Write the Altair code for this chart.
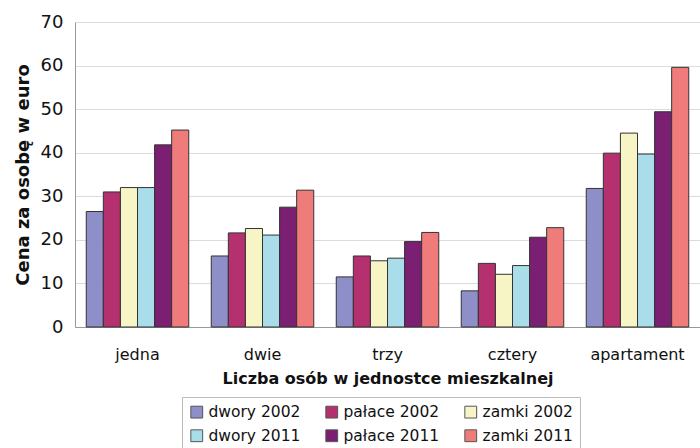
import altair as alt
import pandas as pd

categories = ["jedna", "dwie", "trzy", "cztery", "apartament"]
series = ["dwory 2002", "pałace 2002", "zamki 2002", "dwory 2011", "pałace 2011", "zamki 2011"]
legend_order = ["dwory 2002", "dwory 2011", "pałace 2002", "pałace 2011", "zamki 2002", "zamki 2011"]
colors = ["#8e8fc8", "#b5306e", "#f7f5c5", "#a8dde9", "#7a1f72", "#f07b7b"]

dwory_2002 = [26.5, 16.3, 11.5, 8.3, 31.8]
palace_2002 = [31.0, 21.6, 16.3, 14.6, 39.9]
zamki_2002 = [32.0, 22.6, 15.2, 12.1, 44.5]
dwory_2011 = [32.0, 21.1, 15.8, 14.1, 39.7]
palace_2011 = [41.8, 27.5, 19.6, 20.6, 49.4]
zamki_2011 = [45.2, 31.4, 21.7, 22.8, 59.6]

values = [dwory_2002, palace_2002, zamki_2002, dwory_2011, palace_2011, zamki_2011]
rows = []
for s, vals in zip(series, values):
    for c, v in zip(categories, vals):
        rows.append({"kat": c, "seria": s, "cena": v})
df = pd.DataFrame(rows)

FONT = "DejaVu Sans"

chart = alt.Chart(df).mark_bar(stroke="#333333", strokeWidth=1).encode(
    x=alt.X("kat:N", sort=categories,
            scale=alt.Scale(paddingInner=0.18, paddingOuter=0.09),
            axis=alt.Axis(title="Liczba osób w jednostce mieszkalnej", labelAngle=0,
                          labelFontSize=16, labelColor="#111", labelFont=FONT,
                          ticks=False, labelPadding=19, titleFontSize=16,
                          titleFont=FONT, titleFontWeight="bold", titleColor="#111",
                          titlePadding=8, domainColor="#999", grid=False)),
    xOffset=alt.XOffset("seria:N", sort=series),
    y=alt.Y("cena:Q", scale=alt.Scale(domain=[0, 70]),
            axis=alt.Axis(title="Cena za osobę w euro", values=list(range(0, 71, 10)),
                          labelFontSize=18, labelColor="#111", labelFont=FONT,
                          ticks=False, labelPadding=12, titleFontSize=18,
                          titleFont=FONT, titleFontWeight="bold", titleColor="#111",
                          titlePadding=8, domainColor="#999", gridColor="#dcdcdc")),
    color=alt.Color("seria:N", sort=series,
                    scale=alt.Scale(domain=series, range=colors),
                    legend=alt.Legend(title=None, orient="none", legendX=107, legendY=375,
                                      columns=3, values=legend_order,
                                      symbolType="square", symbolSize=140,
                                      symbolStrokeColor="#555", symbolStrokeWidth=1,
                                      labelFontSize=15.5, labelFont=FONT, labelColor="#111",
                                      columnPadding=22, rowPadding=6, padding=7,
                                      strokeColor="#bbbbbb", labelOffset=4,
                                      symbolOpacity=1)),
).properties(
    width=625, height=305,
    autosize=alt.AutoSizeParams(type="none"),
    padding={"left": 75, "top": 22, "right": 0, "bottom": 121},
).configure_view(stroke=None).configure(background="white")

chart.save("out.html", embed_options={"renderer": "svg", "actions": False})
